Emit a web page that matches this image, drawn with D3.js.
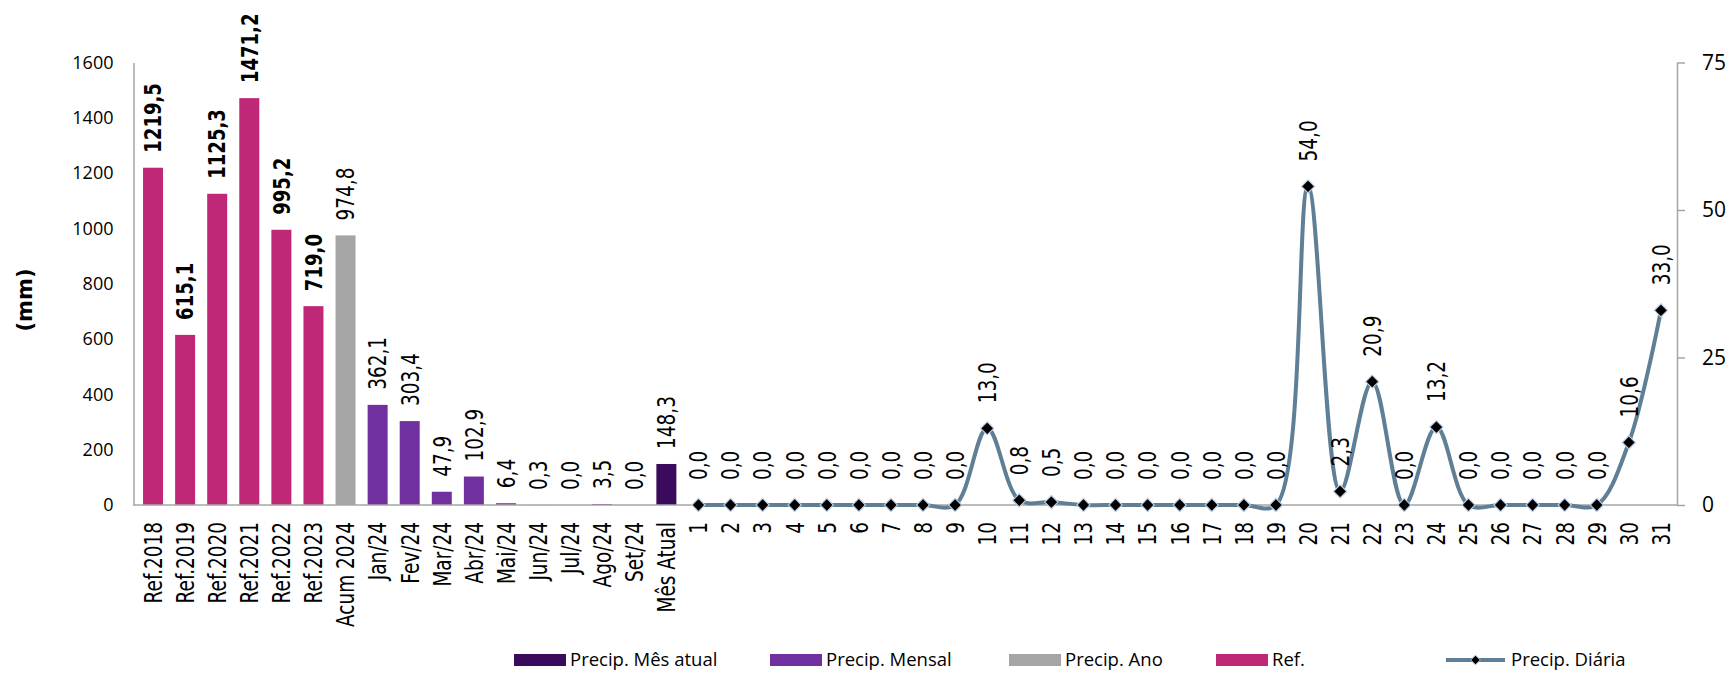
<!DOCTYPE html>
<html>
<head>
<meta charset="utf-8">
<script src="https://cdn.jsdelivr.net/npm/d3@7"></script>
<style>
  html, body { margin: 0; padding: 0; background: #fff; }
  svg { display: block; }
</style>
</head>
<body>
<svg id="chart" width="1733" height="674"></svg>
<script>
// ---- data ----
const barCategories = ["Ref.2018","Ref.2019","Ref.2020","Ref.2021","Ref.2022","Ref.2023","Acum 2024",
  "Jan/24","Fev/24","Mar/24","Abr/24","Mai/24","Jun/24","Jul/24","Ago/24","Set/24","Mês Atual"];
const barValues = [1219.5, 615.1, 1125.3, 1471.2, 995.2, 719.0, 974.8,
  362.1, 303.4, 47.9, 102.9, 6.4, 0.3, 0.0, 3.5, 0.0, 148.3];
const barSeries = ["Ref.","Ref.","Ref.","Ref.","Ref.","Ref.","Precip. Ano",
  "Precip. Mensal","Precip. Mensal","Precip. Mensal","Precip. Mensal","Precip. Mensal","Precip. Mensal",
  "Precip. Mensal","Precip. Mensal","Precip. Mensal","Precip. Mês atual"];
const dayCategories = d3.range(1, 32).map(String);
const dailyValues = [0,0,0,0,0,0,0,0,0,13.0,0.8,0.5,0,0,0,0,0,0,0,54.0,2.3,20.9,0.0,13.2,0,0,0,0,0,10.6,33.0];
const leftTicks = [0,200,400,600,800,1000,1200,1400,1600];
const rightTicks = [0,25,50,75];
const legendItems = ["Precip. Mês atual","Precip. Mensal","Precip. Ano","Ref.","Precip. Diária"];

// ---- styles ----
const colors = {
  "Ref.": "#BE2877",
  "Precip. Ano": "#A5A5A5",
  "Precip. Mensal": "#7030A0",
  "Precip. Mês atual": "#3A0A5C",
  "Precip. Diária": "#5E7F96"
};
const axisColor = "#A6A6A6";
const rotFont = "DejaVu Sans";
const tickFont = "'Open Sans', 'Noto Sans', sans-serif";
const rotScale = "scale(0.84,1.15)";
const rotScaleBold = "scale(0.86,1.12)";

const svg = d3.select("#chart");
const allCats = barCategories.concat(dayCategories);
const x = d3.scaleBand().domain(allCats).range([137, 1677]).padding(0);
const bw = x.bandwidth();
const barW = 20;
const yL = d3.scaleLinear().domain([0, 1600]).range([505, 62.5]);
const yR = d3.scaleLinear().domain([0, 75]).range([505, 62.5]);
const cx = c => x(c) + bw / 2;

// ---- bars ----
const barData = barCategories.map((c, i) => ({c, v: barValues[i], s: barSeries[i]}));
svg.append("g").selectAll("rect").data(barData).join("rect")
  .attr("x", d => cx(d.c) - barW / 2)
  .attr("width", barW)
  .attr("y", d => yL(d.v))
  .attr("height", d => yL(0) - yL(d.v))
  .attr("fill", d => colors[d.s]);

// ---- axes ----
const gL = svg.append("g").attr("transform", "translate(133.5,0)")
  .call(d3.axisLeft(yL).tickValues(leftTicks).tickSize(0).tickPadding(20).tickFormat(d3.format("d")));
gL.select(".domain").attr("stroke", axisColor).attr("stroke-width", 1.5);
gL.selectAll("text").attr("font-family", tickFont).attr("font-size", 18).attr("fill", "#000");

const gR = svg.append("g").attr("transform", "translate(1677,0)")
  .call(d3.axisRight(yR).tickValues(rightTicks).tickSize(8).tickSizeOuter(0).tickPadding(17));
gR.select(".domain").attr("stroke", axisColor).attr("stroke-width", 1.5);
gR.selectAll("line").attr("stroke", axisColor).attr("stroke-width", 1.5);
gR.selectAll("text").attr("font-family", tickFont).attr("font-size", 21).attr("fill", "#000");

const gB = svg.append("g").attr("transform", "translate(0,505)")
  .call(d3.axisBottom(x).tickSize(0).tickSizeOuter(0));
gB.select(".domain").attr("stroke", axisColor).attr("stroke-width", 1.5)
  .attr("d", "M133.5,0H1677");
gB.selectAll("text")
  .attr("font-family", rotFont).attr("font-size", 22).attr("fill", "#000")
  .attr("text-anchor", "end").attr("x", 0).attr("y", 0).attr("dy", "0.35em")
  .attr("transform", `translate(0,17) rotate(-90) ${rotScale}`);

svg.append("text")
  .attr("transform", "translate(25,300) rotate(-90)")
  .attr("text-anchor", "middle").attr("dy", "0.35em")
  .attr("font-family", rotFont).attr("font-weight", "bold").attr("font-size", 21)
  .text("(mm)");

// ---- bar labels ----
const fmt = v => d3.format(".1f")(v).replace(".", ",");
svg.append("g").selectAll("text").data(barData).join("text")
  .attr("transform", d => `translate(${cx(d.c)},${yL(d.v) - 15}) rotate(-90) ${d.s === "Ref." ? rotScaleBold : rotScale}`)
  .attr("text-anchor", "start").attr("dy", "0.35em")
  .attr("font-family", rotFont)
  .attr("font-weight", d => d.s === "Ref." ? "bold" : "normal")
  .attr("font-size", d => d.s === "Ref." ? 21 : 22)
  .attr("fill", "#000")
  .text(d => fmt(d.v));

// ---- daily line ----
const lineData = dayCategories.map((c, i) => ({c, v: dailyValues[i]}));
const line = d3.line().x(d => cx(d.c)).y(d => yR(d.v)).curve(d3.curveCatmullRom.alpha(0.5));
svg.append("path").datum(lineData)
  .attr("d", line).attr("fill", "none")
  .attr("stroke", colors["Precip. Diária"]).attr("stroke-width", 4);

const diamond = d3.symbol().type(d3.symbolDiamond2).size(110);
svg.append("g").selectAll("path").data(lineData).join("path")
  .attr("transform", d => `translate(${cx(d.c)},${yR(d.v)})`)
  .attr("d", diamond)
  .attr("fill", "#000").attr("stroke", "#B9CCE0").attr("stroke-width", 1.2);

svg.append("g").selectAll("text").data(lineData).join("text")
  .attr("transform", d => `translate(${cx(d.c)},${yR(d.v) - 25}) rotate(-90) ${rotScale}`)
  .attr("text-anchor", "start").attr("dy", "0.35em")
  .attr("font-family", rotFont).attr("font-size", 22).attr("fill", "#000")
  .text(d => fmt(d.v));

// ---- legend ----
const legendX = [514, 770, 1009, 1216, 1446];
const legY = 660;
const leg = svg.append("g");
legendItems.forEach((name, i) => {
  const g = leg.append("g").attr("transform", `translate(${legendX[i]},${legY})`);
  let tx;
  if (name === "Precip. Diária") {
    g.append("line").attr("x1", 0).attr("x2", 59).attr("y1", 0).attr("y2", 0)
      .attr("stroke", colors[name]).attr("stroke-width", 4);
    g.append("path").attr("transform", "translate(29.5,0)")
      .attr("d", d3.symbol().type(d3.symbolDiamond2).size(60)())
      .attr("fill", "#000").attr("stroke", "#B9CCE0").attr("stroke-width", 1);
    tx = 65;
  } else {
    g.append("rect").attr("x", 0).attr("y", -6).attr("width", 52).attr("height", 12)
      .attr("fill", colors[name]);
    tx = 56;
  }
  g.append("text").attr("x", tx).attr("y", 0).attr("dy", "0.35em")
    .attr("font-family", tickFont).attr("font-size", 18.5).attr("fill", "#000")
    .text(name);
});
</script>
</body>
</html>
